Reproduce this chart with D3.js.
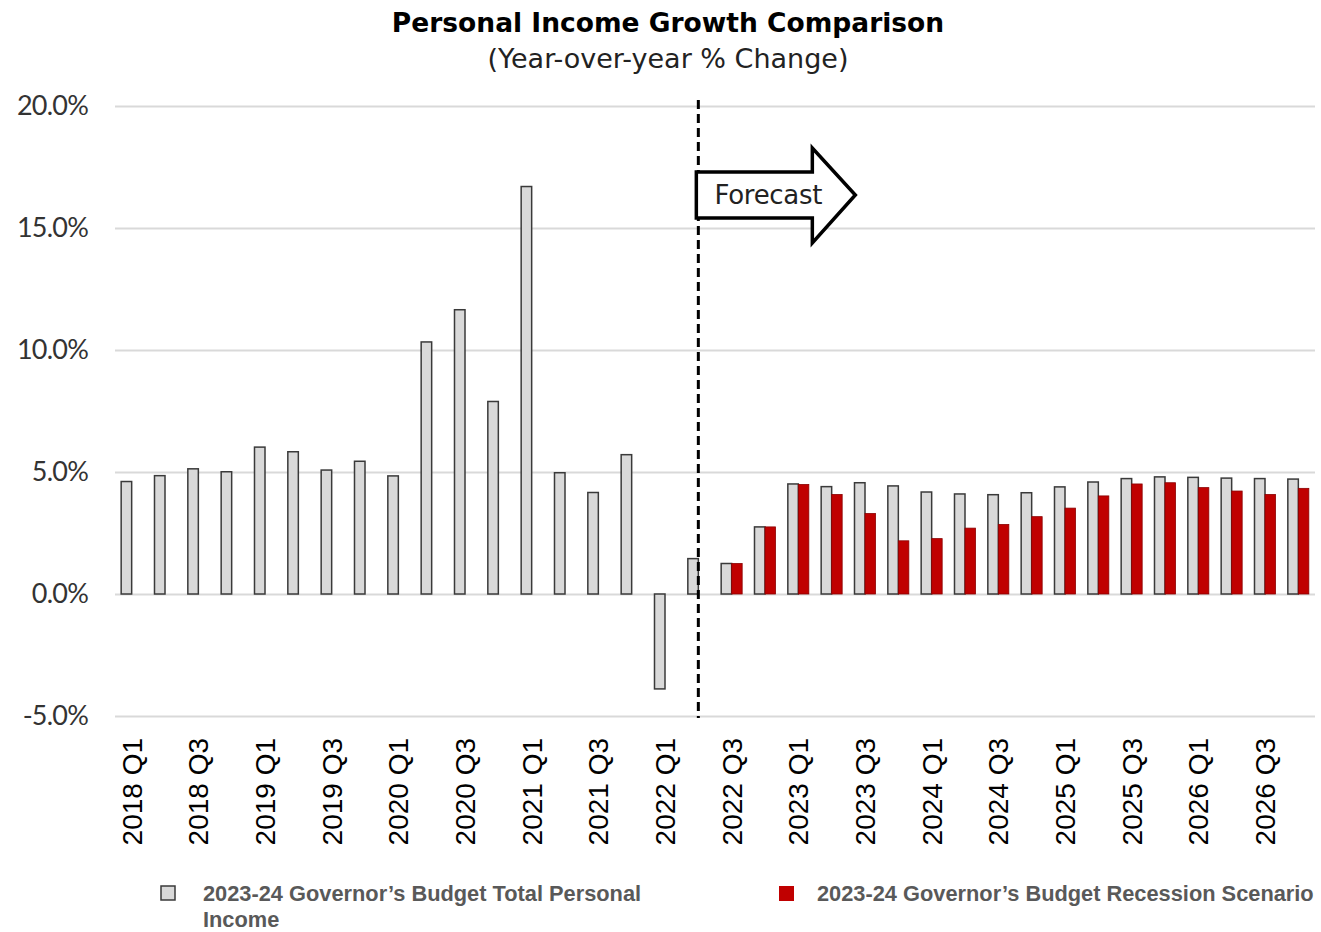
<!DOCTYPE html>
<html>
<head>
<meta charset="utf-8">
<script src="https://cdn.jsdelivr.net/npm/d3@7"></script>
<style>
  html, body { margin: 0; padding: 0; background: #ffffff; }
  svg { display: block; }
</style>
</head>
<body>
<svg id="chart" width="1321" height="932"></svg>
<script>
// Quarterly categories, 2018 Q1 through 2026 Q4
const years = [2018, 2019, 2020, 2021, 2022, 2023, 2024, 2025, 2026];
const quarters = ["Q1", "Q2", "Q3", "Q4"];
const categories = years.flatMap(y => quarters.map(q => `${y} ${q}`));

// Year-over-year % change, Governor's Budget total personal income
const totalIncome = [
  4.61, 4.85, 5.13, 5.01, 6.02, 5.83, 5.08, 5.44,
  4.84, 10.33, 11.65, 7.89, 16.70, 4.97, 4.16, 5.71,
  -3.89, 1.45, 1.25, 2.75, 4.51, 4.40, 4.56, 4.43,
  4.18, 4.10, 4.07, 4.15, 4.39, 4.59, 4.73, 4.80,
  4.78, 4.75, 4.73, 4.71
];

// Recession scenario (forecast quarters only, starting 2022 Q3)
const recessionStart = "2022 Q3";
const recessionScenario = [
  1.25, 2.75, 4.49, 4.08, 3.30, 2.18, 2.27, 2.70,
  2.85, 3.17, 3.52, 4.02, 4.51, 4.56, 4.36, 4.22,
  4.08, 4.33
];

const yTicks = [-5, 0, 5, 10, 15, 20];
const forecastBoundary = "2022 Q2";

const seriesNames = {
  total: "2023-24 Governor\u2019s Budget Total Personal Income",
  recession: "2023-24 Governor\u2019s Budget Recession Scenario"
};

const svg = d3.select("#chart");

const x = d3.scaleBand().domain(categories).range([115, 1315]).paddingInner(0).paddingOuter(0);
const sub = d3.scaleBand().domain(["total", "recession"]).range([0, x.bandwidth()]).paddingInner(0).paddingOuter(0.587);
const y = d3.scaleLinear().domain([-5, 20]).range([716, 106]);

// Title
svg.append("text")
  .attr("x", 668).attr("y", 32)
  .attr("text-anchor", "middle")
  .style("font-family", "'DejaVu Sans', sans-serif")
  .style("font-weight", 700)
  .style("font-size", "26.5px")
  .attr("fill", "#000")
  .text("Personal Income Growth Comparison");

svg.append("text")
  .attr("x", 668).attr("y", 68)
  .attr("text-anchor", "middle")
  .style("font-family", "'DejaVu Sans', sans-serif")
  .style("font-weight", 400)
  .style("font-size", "27px")
  .attr("fill", "#222")
  .text("(Year-over-year % Change)");

// Gridlines and y-axis labels
const yAxis = d3.axisLeft(y)
  .tickValues(yTicks)
  .tickSize(-1200)
  .tickPadding(27)
  .tickFormat(d => d.toFixed(1) + "%");

const yg = svg.append("g").attr("transform", "translate(115,0)").call(yAxis);
yg.select(".domain").remove();
yg.selectAll(".tick line").attr("stroke", "#d9d9d9").attr("stroke-width", 2);
yg.selectAll(".tick text")
  .style("font-family", "Lato, 'Open Sans', sans-serif")
  .style("font-size", "27px")
  .style("letter-spacing", "-0.8px")
  .attr("fill", "#333");

// Bars: total personal income
svg.append("g").selectAll("rect")
  .data(categories.map((c, i) => ({ c, v: totalIncome[i] })))
  .join("rect")
  .attr("x", d => x(d.c) + sub("total"))
  .attr("width", sub.bandwidth())
  .attr("y", d => y(Math.max(0, d.v)))
  .attr("height", d => Math.abs(y(d.v) - y(0)))
  .attr("fill", "#d9d9d9")
  .attr("stroke", "#3a3a3a")
  .attr("stroke-width", 1.5);

// Bars: recession scenario
const recStartIdx = categories.indexOf(recessionStart);
svg.append("g").selectAll("rect")
  .data(recessionScenario.map((v, i) => ({ c: categories[recStartIdx + i], v })))
  .join("rect")
  .attr("x", d => x(d.c) + sub("recession"))
  .attr("width", sub.bandwidth())
  .attr("y", d => y(Math.max(0, d.v)))
  .attr("height", d => Math.abs(y(d.v) - y(0)))
  .attr("fill", "#c00000")
  .attr("stroke", "#8a0000")
  .attr("stroke-width", 0.8);

// X axis labels (every other quarter)
const xAxis = d3.axisBottom(x)
  .tickValues(categories.filter((c, i) => i % 2 === 0))
  .tickSize(0)
  .tickPadding(0);

const xg = svg.append("g").attr("transform", "translate(0,716)").call(xAxis);
xg.select(".domain").remove();
xg.selectAll(".tick text")
  .attr("transform", "rotate(-90)")
  .attr("x", -22)
  .attr("y", 0)
  .attr("dy", "0.36em")
  .attr("text-anchor", "end")
  .style("font-family", "'Liberation Sans', Arial, sans-serif")
  .style("font-size", "28px")
  .attr("fill", "#000");

// Forecast boundary
const bx = x(forecastBoundary) + x.bandwidth() / 2;
svg.append("line")
  .attr("x1", bx).attr("x2", bx)
  .attr("y1", 100).attr("y2", 718)
  .attr("stroke", "#000")
  .attr("stroke-width", 3)
  .attr("stroke-dasharray", "9,5");

// Forecast arrow
const arrow = [
  [bx - 2, 172], [bx + 114, 172], [bx + 114, 148], [bx + 157, 195],
  [bx + 114, 243], [bx + 114, 218], [bx - 2, 218]
];
svg.append("path")
  .attr("d", d3.line()(arrow) + "Z")
  .attr("fill", "#fff")
  .attr("stroke", "#000")
  .attr("stroke-width", 3.5)
  .attr("stroke-linejoin", "miter");

svg.append("text")
  .attr("x", bx + 70).attr("y", 204)
  .attr("text-anchor", "middle")
  .style("font-family", "'DejaVu Sans', sans-serif")
  .style("font-size", "26px")
  .style("letter-spacing", "-0.3px")
  .attr("fill", "#222")
  .text("Forecast");

// Legend
const legend = svg.append("g")
  .style("font-family", "'Liberation Sans', Arial, sans-serif")
  .style("font-weight", 700)
  .style("font-size", "21.8px")
  .attr("fill", "#595959");

legend.append("rect")
  .attr("x", 161).attr("y", 886).attr("width", 14).attr("height", 14)
  .attr("fill", "#d9d9d9").attr("stroke", "#3a3a3a").attr("stroke-width", 1.5);
const lt = legend.append("text").attr("x", 203).attr("y", 901);
lt.append("tspan").attr("x", 203).text("2023-24 Governor\u2019s Budget Total Personal");
lt.append("tspan").attr("x", 203).attr("dy", 26).text("Income");

legend.append("rect")
  .attr("x", 779).attr("y", 886).attr("width", 15).attr("height", 15)
  .attr("fill", "#c00000");
legend.append("text").attr("x", 817).attr("y", 901).text(seriesNames.recession);
</script>
</body>
</html>
